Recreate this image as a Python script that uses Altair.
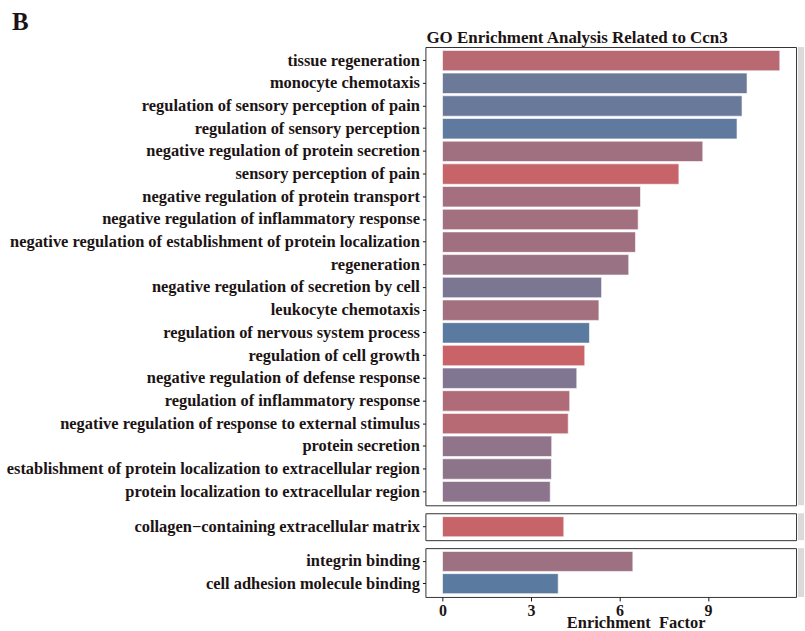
import altair as alt
import pandas as pd

# GO terms per ontology, enrichment factor and adjusted p-value
bp_terms = [
    "tissue regeneration",
    "monocyte chemotaxis",
    "regulation of sensory perception of pain",
    "regulation of sensory perception",
    "negative regulation of protein secretion",
    "sensory perception of pain",
    "negative regulation of protein transport",
    "negative regulation of inflammatory response",
    "negative regulation of establishment of protein localization",
    "regeneration",
    "negative regulation of secretion by cell",
    "leukocyte chemotaxis",
    "regulation of nervous system process",
    "regulation of cell growth",
    "negative regulation of defense response",
    "regulation of inflammatory response",
    "negative regulation of response to external stimulus",
    "protein secretion",
    "establishment of protein localization to extracellular region",
    "protein localization to extracellular region",
]
bp_factor = [11.43, 10.32, 10.15, 9.98, 8.82, 8.01, 6.71, 6.63, 6.54, 6.31,
             5.39, 5.30, 4.98, 4.82, 4.55, 4.31, 4.26, 3.70, 3.69, 3.65]
bp_padj = [0.010, 0.042, 0.043, 0.046, 0.022, 0.003, 0.020, 0.021, 0.022, 0.025,
           0.037, 0.021, 0.047, 0.001, 0.035, 0.015, 0.011, 0.029, 0.030, 0.031]

cc_terms = ["collagen\u2212containing extracellular matrix"]
cc_factor = [4.11]
cc_padj = [0.003]

mf_terms = ["integrin binding", "cell adhesion molecule binding"]
mf_factor = [6.45, 3.92]
mf_padj = [0.023, 0.047]

x_ticks = [0, 3, 6, 9]

FONT = "Liberation Serif"
INK = "#1c1414"
PANEL_W = 372

color_scale = alt.Scale(domain=[0, 0.05], range=["#CC6266", "#4F7BA3"], interpolate="lab")
x_scale = alt.Scale(domain=[-0.58, 11.98], nice=False, zero=False)


def panel(terms, factor, padj, ontology, height, show_x=False, title=None):
    df = pd.DataFrame({
        "Description": terms,
        "EnrichmentFactor": factor,
        "padj": padj,
        "ONTOLOGY": ontology,
    })
    if show_x:
        x_axis = alt.Axis(
            values=x_ticks, grid=False, domain=False, ticks=True,
            tickSize=4, tickColor=INK, tickWidth=1,
            labelFont=FONT, labelFontSize=16, labelFontWeight="bold",
            labelColor=INK, labelPadding=2,
            title="Enrichment\u00a0 Factor", titleFont=FONT, titleFontSize=16.5,
            titleFontWeight="bold", titleColor=INK, titlePadding=-4, titleX=211,
        )
    else:
        x_axis = None
    y_axis = alt.Axis(
        title=None, domain=False, ticks=True, tickSize=3, tickColor=INK,
        tickWidth=1, labelFont=FONT, labelFontSize=16.5, labelFontWeight="bold",
        labelColor=INK, labelPadding=3, labelLimit=600,
    )
    bars = alt.Chart(df).mark_bar(stroke="white", strokeWidth=0.6).encode(
        x=alt.X("EnrichmentFactor:Q", scale=x_scale, axis=x_axis),
        x2=alt.datum(0),
        y=alt.Y("Description:N", sort=terms,
                scale=alt.Scale(paddingInner=0.1, paddingOuter=0.15), axis=y_axis),
        color=alt.Color("padj:Q", scale=color_scale, legend=None),
    )
    # facet strip on the right of the panel
    strip = alt.Chart(pd.DataFrame({"ONTOLOGY": [ontology]})).mark_rect(
        fill="#DADADA", clip=False
    ).encode(
        x=alt.value(PANEL_W + 2), x2=alt.value(PANEL_W + 8),
        y=alt.value(0), y2=alt.value(height),
    )
    props = dict(width=PANEL_W, height=height)
    if title is not None:
        props["title"] = title
    return alt.layer(bars, strip).properties(**props)


go_title = alt.TitleParams(
    "GO Enrichment Analysis Related to Ccn3", anchor="start", frame="group",
    font=FONT, fontSize=17, fontWeight="bold", color=INK, offset=0, dx=1,
)

chart = alt.vconcat(
    panel(bp_terms, bp_factor, bp_padj, "BP", 460, title=go_title),
    panel(cc_terms, cc_factor, cc_padj, "CC", 27),
    panel(mf_terms, mf_factor, mf_padj, "MF", 49, show_x=True),
    spacing=6,
).properties(
    title=alt.TitleParams("B", anchor="start", frame="bounds", font=FONT,
                          fontSize=25, fontWeight="bold", color=INK, dx=7, offset=-6),
    padding={"left": 5, "top": 8, "right": 0, "bottom": 0},
).configure_view(
    stroke="#333333", strokeWidth=1
)

chart.save("out.html", embed_options={"renderer": "svg", "actions": False})
